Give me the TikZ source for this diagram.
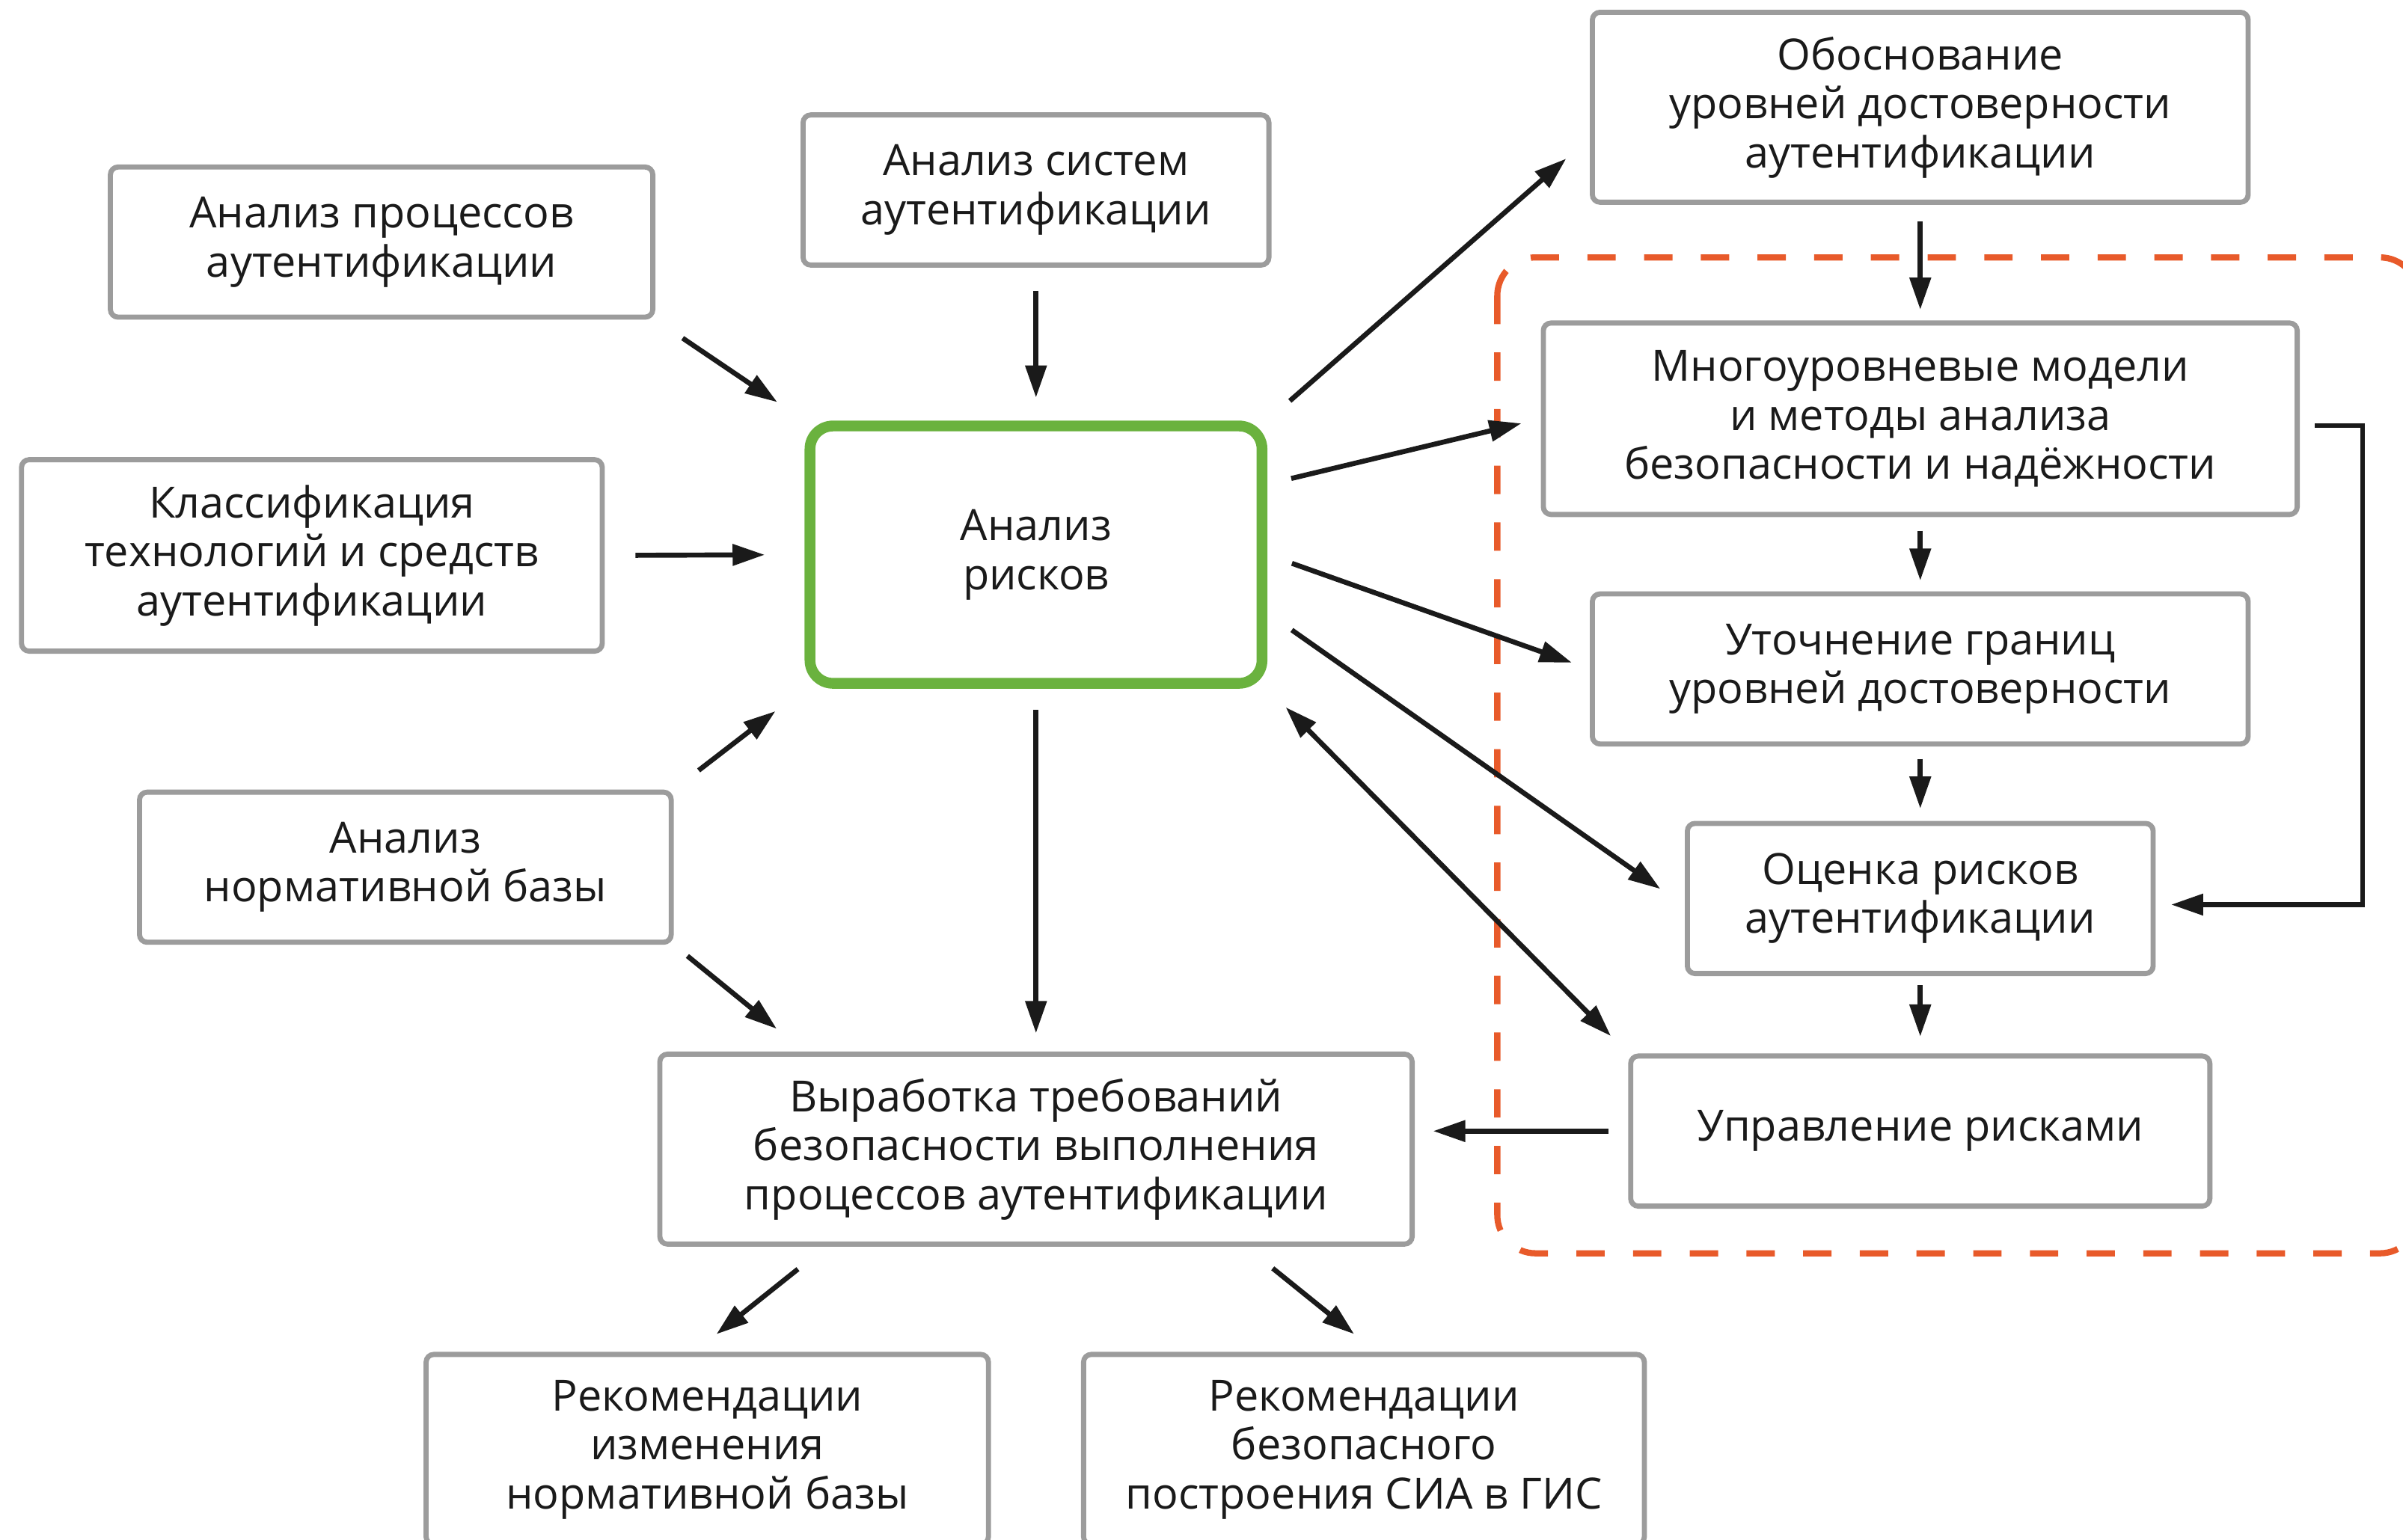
\documentclass[tikz,border=0pt]{standalone}
\usepackage{fontspec}
\setmainfont{Open Sans}
\usepackage{tikz}
\usetikzlibrary{arrows.meta, positioning}

\definecolor{boxgray}{HTML}{9C9C9C}
\definecolor{riskgreen}{HTML}{6AB23E}
\definecolor{zoneorange}{HTML}{E85A2A}
\definecolor{ink}{HTML}{1A1A1A}

\begin{document}
\begin{tikzpicture}[
    x=0.02cm, y=-0.02cm,
    every node/.style={font=\fontsize{16}{18.2}\selectfont, text=ink},
    box/.style={rectangle, draw=boxgray, line width=1.9pt, rounded corners=0.1cm, fill=white, minimum height=1.96cm, align=center},
    riskbox/.style={rectangle, draw=riskgreen, line width=4pt, rounded corners=0.3cm, fill=white, minimum width=5.9cm, minimum height=3.36cm, align=center},
    zone/.style={draw=zoneorange, line width=2.3pt, dash pattern=on 0.37cm off 0.37cm, rounded corners=0.5cm},
    link/.style={->, line width=1.85pt, draw=ink},
    >={Triangle[length=0.42cm, width=0.27cm]},
]
\useasboundingbox (0,0) rectangle (1568,1005);

% Area of risk assessment
\draw[zone] (977,168) rectangle (1578,818);

% Left side and centre
\node[box, minimum width=7.08cm] (proc) at (249,158) {Анализ процессов\\аутентификации};
\node[box, minimum width=6.08cm] (sys) at (676,124) {Анализ систем\\аутентификации};
\node[box, minimum width=7.58cm, minimum height=2.5cm] (klass) at (203.5,362.5) {Классификация\\технологий и средств\\аутентификации};
\node[riskbox] (risk) at (676,362) {Анализ\\рисков};
\node[box, minimum width=6.94cm] (norm) at (264.5,566) {Анализ\\нормативной базы};
\node[box, minimum width=9.82cm, minimum height=2.48cm] (req) at (676,750) {Выработка требований\\безопасности выполнения\\процессов аутентификации};
\node[box, minimum width=7.34cm, minimum height=2.48cm] (recnorm) at (461.5,946) {Рекомендации\\изменения\\нормативной базы};
\node[box, minimum width=7.32cm, minimum height=2.48cm] (recsia) at (890,946) {Рекомендации\\безопасного\\построения СИА в ГИС};

% Right column
\node[box, minimum width=8.56cm, minimum height=2.48cm] (just) at (1253,70) {Обоснование\\уровней достоверности\\аутентификации};
\node[box, minimum width=9.84cm, minimum height=2.5cm, below=1.51cm of just] (models) {Многоуровневые модели\\и методы анализа\\безопасности и надёжности};
\node[box, minimum width=8.56cm, below=0.97cm of models] (bounds) {Уточнение границ\\уровней достоверности};
\node[box, minimum width=6.08cm, below=0.97cm of bounds] (est) {Оценка рисков\\аутентификации};
\node[box, minimum width=7.56cm, below=1.01cm of est] (mgmt) {Управление рисками};

% Inputs to risk analysis
\draw[link, shorten <=0.43cm, shorten >=0.43cm] (proc.south east) -- (risk.north west);
\draw[link, shorten <=0.3cm, shorten >=0.3cm] (sys.south) -- (risk.north);
\draw[link, shorten <=0.4cm, shorten >=0.52cm] (klass.east) -- (risk.west);
\draw[link, shorten <=0.41cm, shorten >=0.48cm] (norm.north east) -- (risk.south west);
\draw[link, shorten <=0.23cm, shorten >=0.47cm] (norm.south east) -- (req.north -| risk.west);

% Outputs of risk analysis
\draw[link, shorten <=0.39cm, shorten >=0.41cm] (risk.north east) -- ([yshift=-0.4cm]just.west);
\draw[link, shorten <=0.32cm, shorten >=0.26cm] ([yshift=0.92cm]risk.east) -- (models.west);
\draw[link, shorten <=0.34cm, shorten >=0.25cm] (risk.east) -- (bounds.west);
\draw[link, shorten <=0.39cm, shorten >=0.39cm] ([yshift=-0.76cm]risk.east) -- ([yshift=-0.1cm]est.west);
\draw[link, <->, shorten <=0.34cm, shorten >=0.32cm] (risk.south east) -- (mgmt.north west);
\draw[link, shorten <=0.28cm, shorten >=0.24cm] (risk.south) -- (req.north);

% Right column flow
\draw[link, shorten <=0.22cm, shorten >=0.14cm] (just.south) -- (models.north);
\draw[link, shorten <=0.18cm, shorten >=0.14cm] (models.south) -- (bounds.north);
\draw[link, shorten <=0.16cm, shorten >=0.16cm] (bounds.south) -- (est.north);
\draw[link, shorten <=0.12cm, shorten >=0.22cm] (est.south) -- (mgmt.north);
\draw[link, shorten <=0.2cm, shorten >=0.2cm] ([yshift=-0.09cm]models.east) -- ++(41,0) |- ([yshift=-0.08cm]est.east);
\draw[link, shorten <=0.26cm, shorten >=0.24cm] (mgmt.west) -- (mgmt.west -| req.east);

% Recommendations
\draw[link, shorten <=0.47cm, shorten >=0.37cm] ([xshift=-2.74cm]req.south) -- ([xshift=-0.17cm]recnorm.north);
\draw[link, shorten <=0.45cm, shorten >=0.37cm] ([xshift=2.74cm]req.south) -- ([xshift=0.16cm]recsia.north);

\end{tikzpicture}
\end{document}
